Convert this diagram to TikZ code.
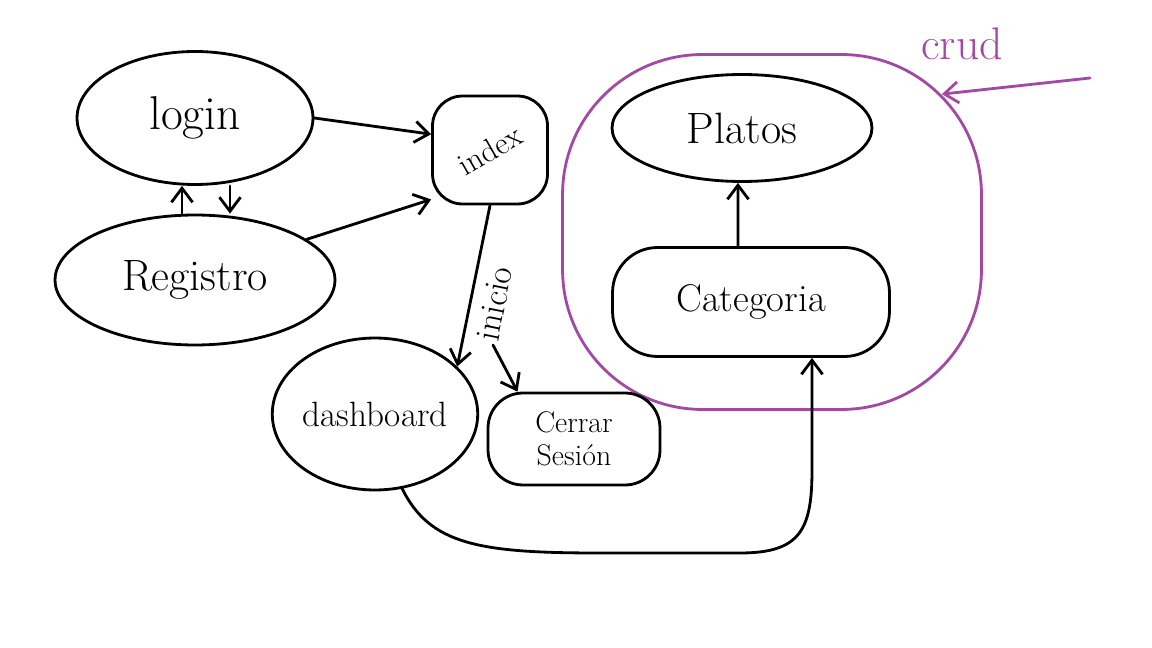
\documentclass[tikz,border=0pt]{standalone}
\usepackage{fontspec}
\usetikzlibrary{shapes.geometric,arrows.meta,calc}
\definecolor{crudpurple}{RGB}{163,73,164}
\begin{document}
\begin{tikzpicture}[x=0.02cm,y=-0.02cm,
  line width=1.6pt, line cap=round, line join=round,
  arr/.style={-{Straight Barb[length=8pt,width=12pt]}},
  oval/.style={draw, ellipse, inner sep=0pt},
  box/.style={draw, rectangle, inner sep=0pt},
]
\fill[white] (0,0) rectangle (1152,648);
\useasboundingbox (0,0) rectangle (1152,648);

% crud container
\node[box, draw=crudpurple, rounded corners=2.8cm, minimum width=8.38cm, minimum height=7.1cm] (crudbox) at (772,232) {};
\node[text=crudpurple, font=\fontsize{26}{30}\selectfont] (crudlbl) at (962,44) {crud};
\coordinate (crudtail) at (1090,78);
\coordinate (crudhit) at ($(crudbox.north east)+(-41,41)$);
\draw[arr, crudpurple] (crudtail) -- (crudhit);

% nodes
\node[oval, minimum width=4.72cm, minimum height=2.66cm, font=\fontsize{27}{30}\selectfont] (login) at (195,118) {login};
\node[oval, minimum width=5.6cm, minimum height=2.6cm, font=\fontsize{25}{30}\selectfont] (registro) at (195,280) {Registro};
\node[box, rounded corners=0.6cm, minimum width=2.3cm, minimum height=2.16cm, font=\fontsize{18}{22}\selectfont] (index) at (490,150) {\rotatebox{30}{index}};
\node[oval, minimum width=3.5cm, minimum height=3.04cm, font=\fontsize{20}{24}\selectfont] (dashboard) at (375,414) {dashboard};
\node[box, rounded corners=0.7cm, minimum width=3.44cm, minimum height=1.84cm, align=center, font=\fontsize{17}{19}\selectfont] (cerrar) at (574,439) {Cerrar\\Sesión};
\node[oval, minimum width=5.2cm, minimum height=2.14cm, font=\fontsize{25}{30}\selectfont] (platos) at (742,128) {Platos};
\node[box, rounded corners=0.9cm, minimum width=5.54cm, minimum height=2.18cm, font=\fontsize{22}{26}\selectfont] (categoria) at (751,302) {Categoria};

% connectors
\draw[arr] (login.east) -- (index.165);
\draw[arr] (registro.20) -- (index.220);
\draw[arr] ([xshift=0.7cm]login.south) -- ([xshift=0.7cm]registro.north);
\draw[arr] ([xshift=-0.26cm]registro.north) -- ([xshift=-0.26cm]login.south);
\draw[arr] ([xshift=-0.26cm]categoria.north) -- ([xshift=-0.08cm]platos.south);
\draw[arr] (index.south) -- node[sloped, below=3pt, pos=0.58, font=\fontsize{20}{24}\selectfont] (inicio) {inicio} (dashboard.30);
\coordinate (split) at (493,345);
\draw[arr] (split) -- (cerrar.140);
\draw[arr] (dashboard.-70) .. controls (430,545) and (480,553) .. (600,553) -- (740,553) .. controls (800,553) and (812,530) .. (812,470) -- ([xshift=1.22cm]categoria.south);
\end{tikzpicture}
\end{document}
